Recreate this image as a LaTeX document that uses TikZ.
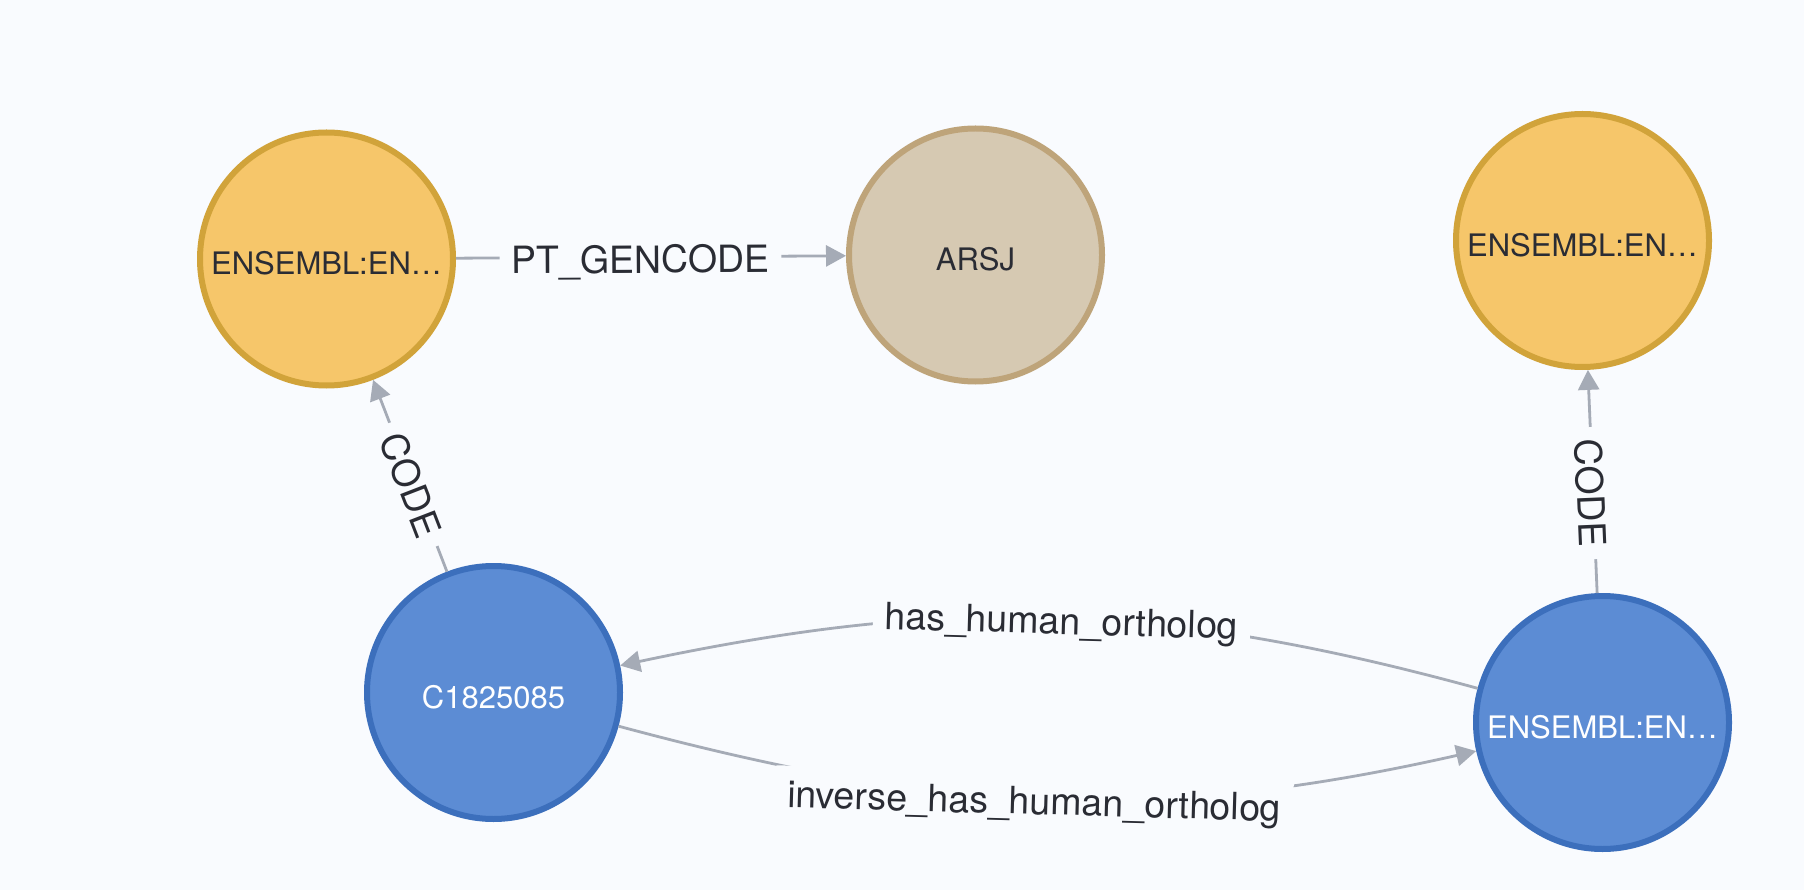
\documentclass[tikz,border=0pt]{standalone}
\usepackage{fontspec}
\setmainfont{TeX Gyre Heros}
\usetikzlibrary{arrows.meta}
\definecolor{bg}{RGB}{249,251,254}
\definecolor{ofill}{RGB}{246,198,106}
\definecolor{odraw}{RGB}{209,163,58}
\definecolor{tfill}{RGB}{214,201,178}
\definecolor{tdraw}{RGB}{190,164,122}
\definecolor{bfill}{RGB}{92,140,212}
\definecolor{bdraw}{RGB}{60,111,188}
\definecolor{edgec}{RGB}{165,171,182}
\definecolor{txt}{RGB}{42,44,52}
\begin{document}
\begin{tikzpicture}[x=1pt,y=-1pt,
  gnode/.style={circle, line width=6pt, minimum size=253pt, inner sep=0pt,
    font=\fontsize{31}{36}\selectfont, text height=32pt, text depth=0pt},
  onode/.style={gnode, fill=ofill, draw=odraw, text=txt},
  tnode/.style={gnode, fill=tfill, draw=tdraw, text=txt},
  bnode/.style={gnode, fill=bfill, draw=bdraw, text=white},
  edge/.style={draw=edgec, line width=2.8pt, -{Triangle[length=20pt,width=21pt]}},
  elabel/.style={fill=bg, text=txt, font=\fontsize{37.5}{42}\selectfont,
    inner xsep=12pt, inner ysep=10pt, text height=32pt, text depth=0pt}]
\useasboundingbox (0,0) rectangle (1804,890);
\fill[bg] (0,0) rectangle (1804,890);

\node[onode] (o1) at (326.5,259) {ENSEMBL:EN…};
\node[tnode] (t1) at (975.5,255) {ARSJ};
\node[onode] (o2) at (1582.5,240.5) {ENSEMBL:EN…};
\node[bnode] (c1) at (493.5,692.5) {C1825085};
\node[bnode] (b2) at (1602.5,722.5) {ENSEMBL:EN…};

\draw[edge] (o1) -- node[elabel,pos=0.473,rotate=0.35]{PT\_GENCODE} (t1);
\draw[edge] (c1) -- node[elabel,pos=0.455,rotate=-68.9]{CODE} (o1);
\draw[edge] (b2) -- node[elabel,pos=0.448,rotate=-87.6]{CODE} (o2);
\draw[edge] (b2) .. controls (1155,600) and (947,596) .. node[elabel,pos=0.486,rotate=-1.6]{has\_human\_ortholog} (c1);
\draw[edge] (c1) .. controls (941,813) and (1149,825) .. node[elabel,pos=0.486,rotate=-1.6]{inverse\_has\_human\_ortholog} (b2);
\end{tikzpicture}
\end{document}
